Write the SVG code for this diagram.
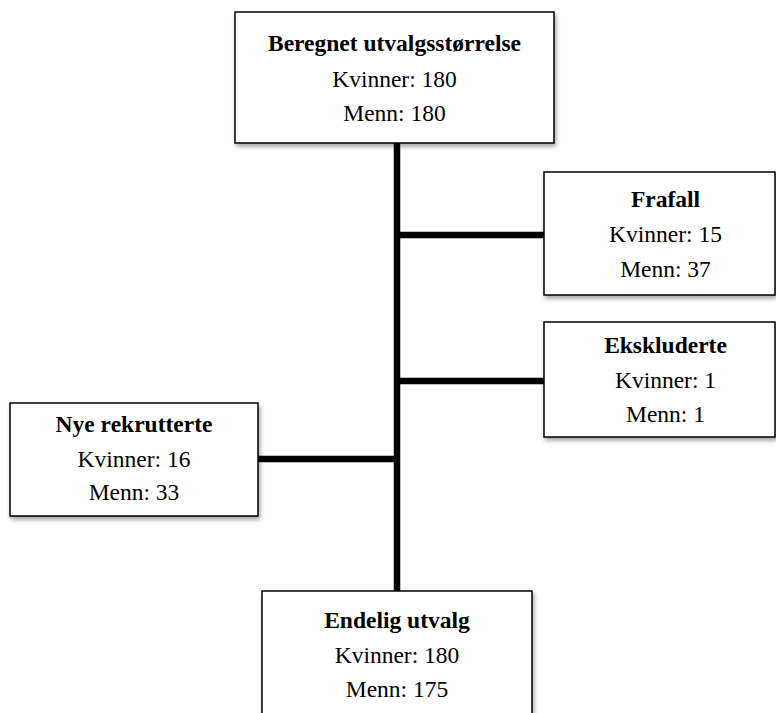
<svg xmlns="http://www.w3.org/2000/svg" width="776" height="713" viewBox="0 0 776 713">
<defs>
<filter id="sh" x="-10%" y="-10%" width="130%" height="140%">
<feDropShadow dx="1.5" dy="3" stdDeviation="2" flood-color="#000" flood-opacity="0.35"/>
</filter>
<style>
.box{fill:#fff;stroke:#000;stroke-width:1.5;filter:url(#sh)}
.t{font-family:"Liberation Serif","Times New Roman",serif;font-size:23.5px;fill:#000;text-anchor:middle}
.b{font-weight:bold}
.c{stroke:#000;stroke-width:6.5;fill:none}
</style>
</defs>
<g id="connectors">
<line class="c" x1="397" y1="142" x2="397" y2="592"/>
<line class="c" x1="397" y1="235" x2="545" y2="235"/>
<line class="c" x1="397" y1="381" x2="545" y2="381"/>
<line class="c" x1="258" y1="459" x2="400" y2="459"/>
</g>
<g id="top">
<rect class="box" x="235" y="12" width="319" height="131"/>
<text class="t b" x="394.5" y="51">Beregnet utvalgsstørrelse</text>
<text class="t" x="394.5" y="87">Kvinner: 180</text>
<text class="t" x="394.5" y="121">Menn: 180</text>
</g>
<g id="frafall">
<rect class="box" x="544" y="172" width="231" height="123"/>
<text class="t b" x="665.5" y="207">Frafall</text>
<text class="t" x="665.5" y="242">Kvinner: 15</text>
<text class="t" x="665.5" y="277">Menn: 37</text>
</g>
<g id="ekskluderte">
<rect class="box" x="544" y="322" width="231" height="115"/>
<text class="t b" x="665.5" y="353">Ekskluderte</text>
<text class="t" x="665.5" y="388">Kvinner: 1</text>
<text class="t" x="665.5" y="422">Menn: 1</text>
</g>
<g id="nye">
<rect class="box" x="10" y="403" width="248" height="113"/>
<text class="t b" x="134" y="432">Nye rekrutterte</text>
<text class="t" x="134" y="467">Kvinner: 16</text>
<text class="t" x="134" y="500">Menn: 33</text>
</g>
<g id="endelig">
<rect class="box" x="262" y="591" width="270" height="140"/>
<text class="t b" x="397" y="628">Endelig utvalg</text>
<text class="t" x="397" y="663">Kvinner: 180</text>
<text class="t" x="397" y="697">Menn: 175</text>
</g>
</svg>
